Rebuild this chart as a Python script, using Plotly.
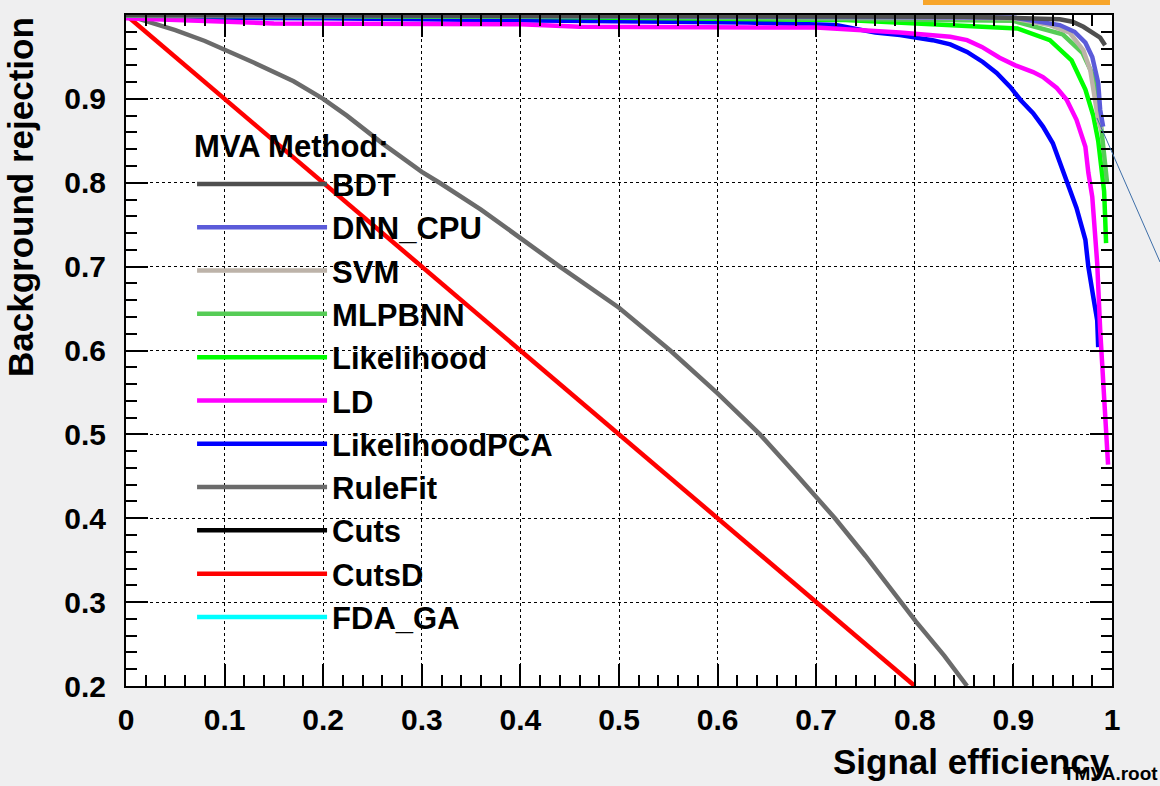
import plotly.graph_objects as go

# ---------------- data ----------------
methods = ["BDT", "DNN_CPU", "SVM", "MLPBNN", "Likelihood", "LD",
           "LikelihoodPCA", "RuleFit", "Cuts", "CutsD", "FDA_GA"]
colors = ["#4f4f4f", "#5b5bd9", "#bdb3a9", "#56cc56", "#00ff00", "#ff00ff",
          "#0000ff", "#6b6b6b", "#000000", "#ff0000", "#00ffff"]

bdt_eff = [0, 0.5, 0.85, 0.947, 0.96, 0.971, 0.981, 0.988, 0.993]
bdt_rej = [1.0, 0.999, 0.998, 0.995, 0.992, 0.986, 0.979, 0.973, 0.964]

dnn_eff = [0, 0.5, 0.9, 0.947, 0.962, 0.973, 0.98, 0.986, 0.988, 0.991]
dnn_rej = [1.0, 0.999, 0.997, 0.988, 0.98, 0.967, 0.95, 0.919, 0.887, 0.867]

svm_eff = [0, 0.5, 0.9, 0.937, 0.957, 0.971, 0.978, 0.983, 0.986, 0.989]
svm_rej = [1.0, 0.999, 0.996, 0.988, 0.979, 0.958, 0.934, 0.899, 0.875, 0.863]

mlp_eff = [0, 0.5, 0.9, 0.95, 0.97, 0.98, 0.986, 0.99, 0.993, 0.995]
mlp_rej = [0.999, 0.998, 0.993, 0.977, 0.955, 0.93, 0.90, 0.86, 0.83, 0.80]

lik_eff = [0, 0.4, 0.73, 0.904, 0.937, 0.959, 0.973, 0.981, 0.986, 0.989, 0.992, 0.993, 0.994]
lik_rej = [0.999, 0.998, 0.994, 0.984, 0.97, 0.946, 0.911, 0.88, 0.85, 0.82, 0.79, 0.76, 0.728]

ld_eff = [0, 0.05, 0.15, 0.4, 0.46, 0.7, 0.785, 0.836, 0.853, 0.868, 0.886, 0.902,
          0.920, 0.930, 0.944, 0.954, 0.964, 0.973, 0.976, 0.980, 0.985, 0.988,
          0.991, 0.995, 0.996]
ld_rej = [0.996, 0.994, 0.990, 0.989, 0.986, 0.985, 0.979, 0.974, 0.970, 0.962, 0.949, 0.940,
          0.932, 0.926, 0.913, 0.899, 0.875, 0.843, 0.812, 0.783, 0.704, 0.625,
          0.565, 0.49, 0.464]

pca_eff = [0, 0.05, 0.2, 0.38, 0.5, 0.63, 0.72, 0.76, 0.785, 0.818, 0.836, 0.853, 0.869,
           0.883, 0.897, 0.907, 0.920, 0.930, 0.940, 0.950, 0.959, 0.964, 0.973,
           0.976, 0.981, 0.985, 0.986]
pca_rej = [0.998, 0.997, 0.996, 0.994, 0.993, 0.991, 0.988, 0.979, 0.976, 0.970, 0.965, 0.956, 0.944,
           0.931, 0.914, 0.899, 0.883, 0.867, 0.847, 0.815, 0.787, 0.770, 0.732,
           0.700, 0.664, 0.636, 0.604]

rf_eff = [0, 0.02, 0.05, 0.08, 0.1, 0.13, 0.17, 0.2, 0.224, 0.26, 0.3, 0.318, 0.36, 0.4,
          0.44, 0.5, 0.552, 0.6, 0.643, 0.68, 0.719, 0.75, 0.785, 0.801, 0.83, 0.853]
rf_rej = [1.0, 0.993, 0.982, 0.969, 0.959, 0.943, 0.921, 0.900, 0.880, 0.847, 0.813, 0.800, 0.768, 0.734,
          0.700, 0.651, 0.600, 0.549, 0.500, 0.452, 0.400, 0.355, 0.300, 0.277, 0.236, 0.200]

cuts_eff = [0, 0.3, 0.6, 0.86]
cuts_rej = [1.0, 1.0, 1.0, 0.999]

cutsd_eff = [0, 0.05, 0.1, 0.15, 0.2, 0.25, 0.3, 0.35, 0.4, 0.45, 0.5, 0.55, 0.6,
             0.65, 0.7, 0.75, 0.8]
cutsd_rej = [1.0, 0.95, 0.9, 0.85, 0.8, 0.75, 0.7, 0.65, 0.6, 0.55, 0.5, 0.45, 0.4,
             0.35, 0.3, 0.25, 0.2]

fda_eff = [0, 0.4, 0.8]
fda_rej = [1.0, 1.0, 0.999]

x_tick_vals = [0, 0.1, 0.2, 0.3, 0.4, 0.5, 0.6, 0.7, 0.8, 0.9, 1]
x_tick_text = ["0", "0.1", "0.2", "0.3", "0.4", "0.5", "0.6", "0.7", "0.8", "0.9", "1"]
y_tick_vals = [0.2, 0.3, 0.4, 0.5, 0.6, 0.7, 0.8, 0.9, 1]
y_tick_text = ["0.2", "0.3", "0.4", "0.5", "0.6", "0.7", "0.8", "0.9", "1"]

series = {
    "BDT": (bdt_eff, bdt_rej),
    "DNN_CPU": (dnn_eff, dnn_rej),
    "SVM": (svm_eff, svm_rej),
    "MLPBNN": (mlp_eff, mlp_rej),
    "Likelihood": (lik_eff, lik_rej),
    "LD": (ld_eff, ld_rej),
    "LikelihoodPCA": (pca_eff, pca_rej),
    "RuleFit": (rf_eff, rf_rej),
    "Cuts": (cuts_eff, cuts_rej),
    "CutsD": (cutsd_eff, cutsd_rej),
    "FDA_GA": (fda_eff, fda_rej),
}

FONT = "Liberation Sans, Arial, Helvetica, sans-serif"

fig = go.Figure()
# draw last legend entry first so the best method is on top
for name, col in reversed(list(zip(methods, colors))):
    xs, ys = series[name]
    fig.add_trace(go.Scatter(x=xs, y=ys, mode="lines", name=name,
                             line=dict(color=col, width=4.5)))

axis_common = dict(
    showline=True, linecolor="black", linewidth=2, mirror="ticks",
    ticks="inside", ticklen=22, tickwidth=1.5, tickcolor="black",
    showgrid=True, gridcolor="black", gridwidth=1, griddash="dot",
    zeroline=False,
    tickfont=dict(family=FONT, size=30, color="black", weight="bold"),
    minor=dict(ticks="inside", ticklen=11, tickwidth=1.5, tickcolor="black",
               dtick=0.02),
)

fig.update_xaxes(range=[0, 1], tickvals=x_tick_vals, ticktext=x_tick_text,
                 ticklabelstandoff=6, **axis_common)
fig.update_yaxes(range=[0.2, 1], tickvals=y_tick_vals, ticktext=y_tick_text,
                 ticklabelstandoff=12, **axis_common)
fig.update_xaxes(minor=dict(tick0=0, showgrid=False))
fig.update_yaxes(minor=dict(tick0=0.2, showgrid=False))

fig.update_layout(
    width=1160, height=786,
    margin=dict(l=126, r=48, t=15, b=100),
    paper_bgcolor="#efeff0", plot_bgcolor="white",
    showlegend=True,
    legend=dict(
        x=0.067, y=0.848, xanchor="left", yanchor="top",
        traceorder="reversed", bgcolor="rgba(0,0,0,0)", borderwidth=0,
        itemwidth=130,
        font=dict(family=FONT, size=31, color="black", weight="bold"),
        title=dict(text="MVA Method:",
                   font=dict(family=FONT, size=31, color="black", weight="bold")),
    ),
    annotations=[
        dict(text="TMVA.root", xref="paper", yref="paper", x=0.948, y=-0.130,
             xanchor="left", yanchor="middle", showarrow=False,
             font=dict(family=FONT, size=19, color="black", weight="bold")),
        dict(text="Signal efficiency", xref="paper", yref="paper", x=1.0, y=-0.113,
             xanchor="right", yanchor="middle", showarrow=False,
             font=dict(family=FONT, size=35, color="black", weight="bold")),
        dict(text="Background rejection", xref="paper", yref="paper", x=-0.1075, y=1.0,
             xanchor="center", yanchor="top", textangle=-90, showarrow=False,
             font=dict(family=FONT, size=35, color="black", weight="bold")),
    ],
    shapes=[
        dict(type="rect", xref="paper", yref="paper",
             x0=(923 - 126) / 986, x1=(1110 - 126) / 986,
             y0=(686 - 5) / 671, y1=686 / 671,
             fillcolor="#f7a52b", line=dict(width=0), layer="above"),
        dict(type="line", xref="paper", yref="paper",
             x0=(1097 - 126) / 986, y0=(686 - 118) / 671,
             x1=(1160 - 126) / 986, y1=(686 - 262) / 671,
             line=dict(color="#3d6ea8", width=1), layer="above"),
    ],
)

fig.write_html("out.html", config={"displayModeBar": False})
